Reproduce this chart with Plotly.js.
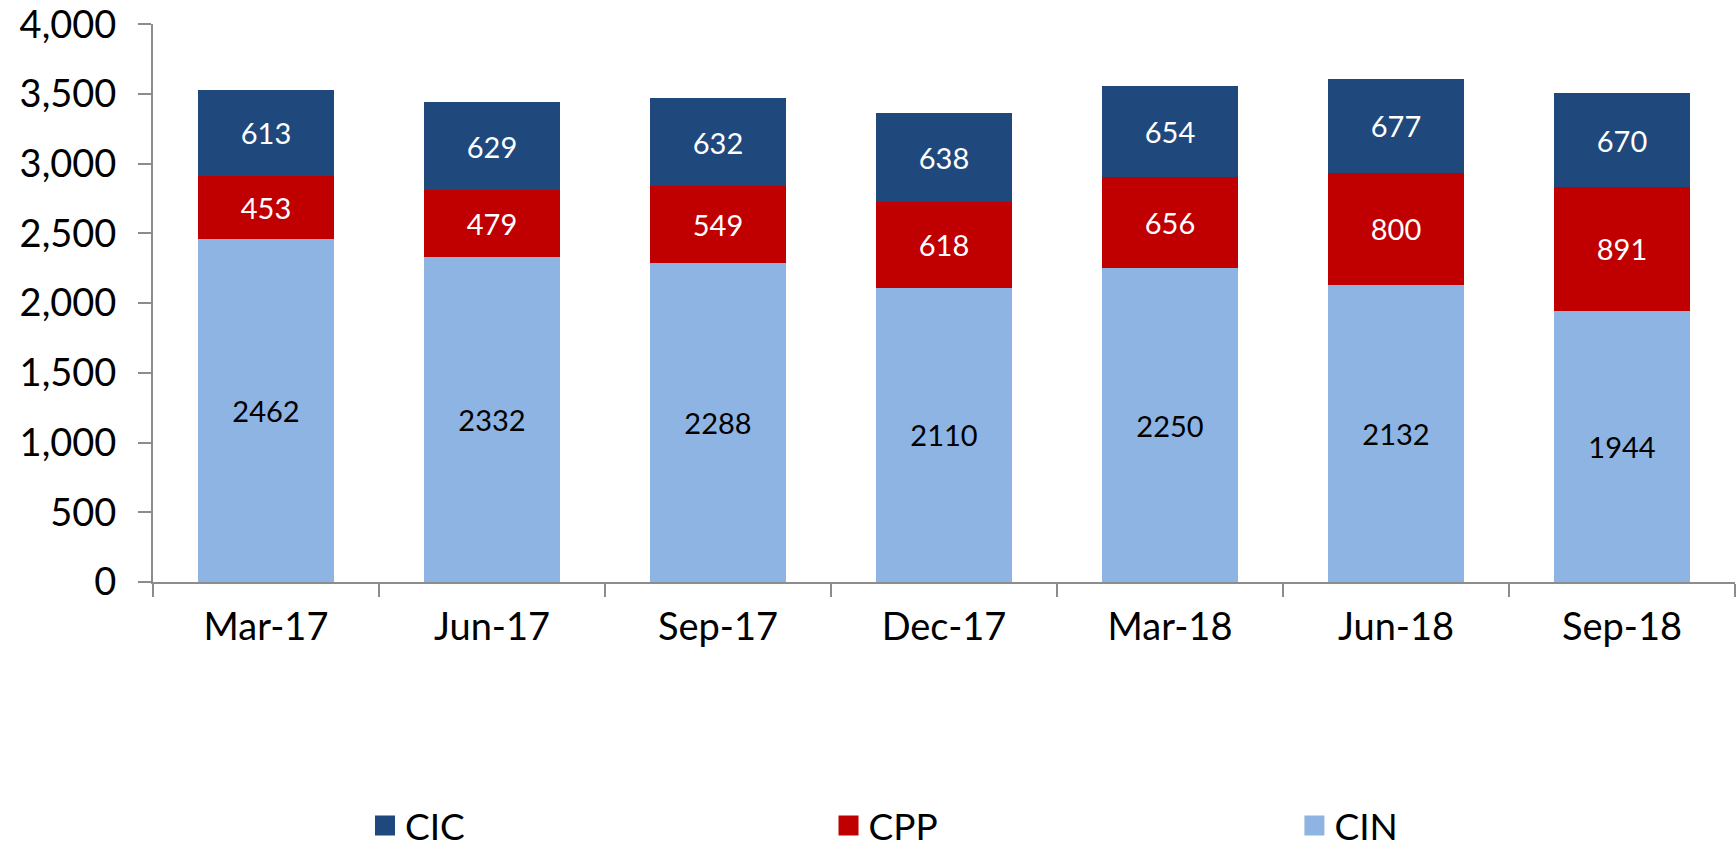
<!DOCTYPE html>
<html>
<head>
<meta charset="utf-8">
<script src="https://cdn.plot.ly/plotly-3.0.1.min.js"></script>
<style>html,body{margin:0;padding:0;background:#fff;}#chart{width:1736px;height:848px;}</style>
</head>
<body>
<div id="chart"></div>
<script>
const categories = ['Mar-17', 'Jun-17', 'Sep-17', 'Dec-17', 'Mar-18', 'Jun-18', 'Sep-18'];
const cin = [2462, 2332, 2288, 2110, 2250, 2132, 1944];
const cpp = [453, 479, 549, 618, 656, 800, 891];
const cic = [613, 629, 632, 638, 654, 677, 670];
const yTicks = [0, 500, 1000, 1500, 2000, 2500, 3000, 3500, 4000];
const seriesNames = ['CIN', 'CPP', 'CIC'];
const seriesColors = ['#8EB4E3', '#C00000', '#1F497D'];
const labelColors = ['#000000', '#FFFFFF', '#FFFFFF'];
const legendIds = ['legend3', 'legend2', 'legend'];

const FONT = 'Lato, "Open Sans", sans-serif';
const values = [cin, cpp, cic];
const data = [];
values.forEach((vals, i) => {
  data.push({
    type: 'bar', name: seriesNames[i], x: categories, y: vals,
    text: vals.map(String), textposition: 'inside', insidetextanchor: 'middle',
    textangle: 0, constraintext: 'none',
    textfont: {family: FONT, size: 29, color: labelColors[i]},
    marker: {color: seriesColors[i], line: {width: 0}},
    showlegend: false, legendgroup: seriesNames[i], hoverinfo: 'skip'
  });
});
// legend swatches for the same series
values.forEach((vals, i) => {
  data.push({
    type: 'scatter', mode: 'markers', name: seriesNames[i], x: [null], y: [null],
    marker: {symbol: 'square', size: 16, color: seriesColors[i], line: {width: 4, color: seriesColors[i]}},
    legendgroup: seriesNames[i], legend: legendIds[i], showlegend: true, hoverinfo: 'skip'
  });
});
function leg(x) {
  return {
    orientation: 'h', x: x, xanchor: 'left', y: -0.437, yanchor: 'middle',
    font: {family: FONT, size: 37, color: '#000'}, bgcolor: 'rgba(0,0,0,0)'
  };
}
const layout = {
  width: 1736, height: 848,
  margin: {l: 153, r: 1, t: 24, b: 266, autoexpand: false},
  barmode: 'stack', bargap: 0.4,
  paper_bgcolor: '#fff', plot_bgcolor: '#fff',
  font: {family: FONT, color: '#000'},
  xaxis: {
    type: 'category', showgrid: false, showline: true, linecolor: '#8C8C8C', linewidth: 2,
    ticks: 'outside', tickson: 'boundaries', ticklen: 13, tickwidth: 2, tickcolor: '#8C8C8C',
    tickfont: {family: FONT, size: 38, color: '#000'}, ticklabelstandoff: 10
  },
  yaxis: {
    range: [0, 4002], tickvals: yTicks, tickformat: ',d', showgrid: false, zeroline: false,
    showline: true, linecolor: '#8C8C8C', linewidth: 2,
    ticks: 'outside', ticklen: 13, tickwidth: 2, tickcolor: '#8C8C8C', ticklabeloverflow: 'allow',
    tickfont: {family: FONT, size: 38, color: '#000'}, ticklabelstandoff: 14
  },
  showlegend: true,
  legend: leg(0.1340),
  legend2: leg(0.4270),
  legend3: leg(0.7215)
};
Plotly.newPlot('chart', data, layout, {displayModeBar: false, staticPlot: true});
</script>
</body>
</html>
